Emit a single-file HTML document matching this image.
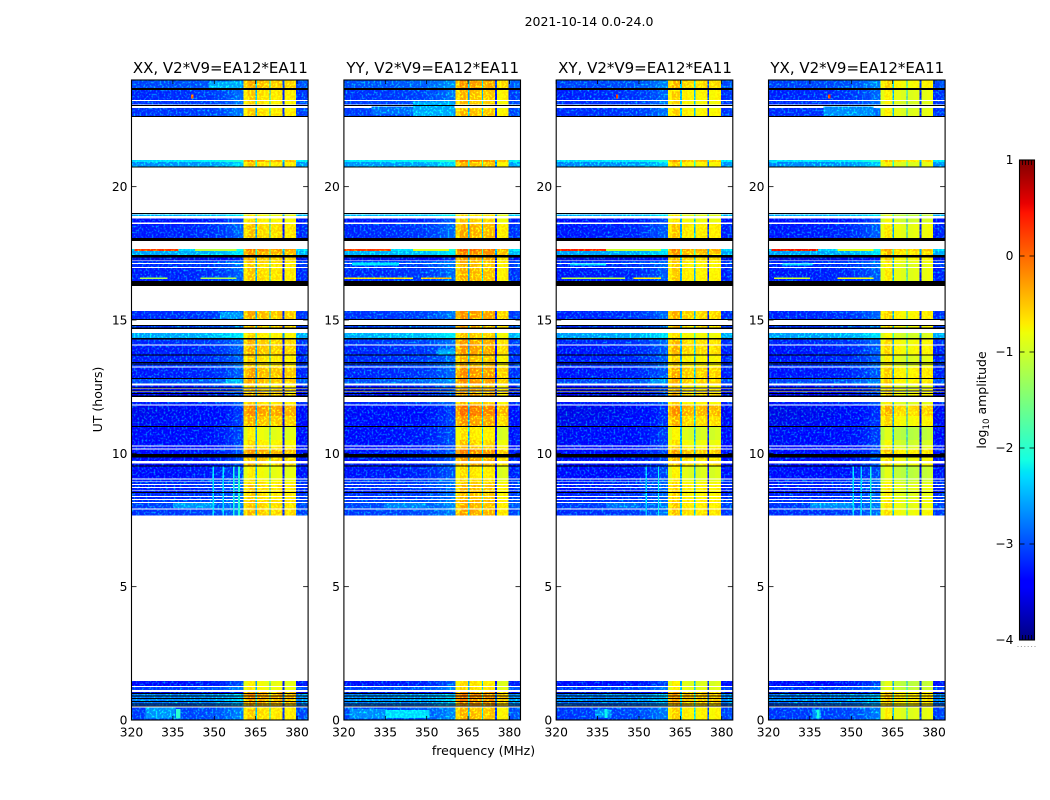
<!DOCTYPE html>
<html>
<head>
<meta charset="utf-8">
<title>2021-10-14 0.0-24.0</title>
<style>
html,body{margin:0;padding:0;background:#fff;}
svg{display:block;}
text{font-family:"DejaVu Sans","Liberation Sans",sans-serif;fill:#000;}
</style>
</head>
<body>
<svg id="figure" xmlns="http://www.w3.org/2000/svg" width="1050" height="800" viewBox="0 0 1050 800">
  <defs>
    <filter id="mottle" x="0" y="0" width="100%" height="100%" color-interpolation-filters="sRGB">
      <feTurbulence type="fractalNoise" baseFrequency="0.5" numOctaves="1" seed="4" result="n"/>
      <feColorMatrix in="n" type="matrix" values="0 0 0 0 0  1.7 0 0 0 -0.8  0 0 0 0 0  0 0 0 0 1" result="g"/>
      <feComposite in="g" in2="SourceAlpha" operator="in" result="masked"/>
      <feComposite in="SourceGraphic" in2="masked" operator="arithmetic" k1="0" k2="1" k3="1" k4="0"/>
    </filter>
    <linearGradient id="jetGradient" x1="0" y1="1" x2="0" y2="0"></linearGradient>
  </defs>
  <text x="589" y="26" font-size="12.5" text-anchor="middle">2021-10-14 0.0-24.0</text>
  <text x="483.5" y="755" font-size="12.5" text-anchor="middle">frequency (MHz)</text>
  <text x="0" y="0" font-size="12.5" text-anchor="middle" transform="translate(102,399.5) rotate(-90)">UT (hours)</text>
  <text x="0" y="0" font-size="12.5" text-anchor="middle" transform="translate(986,400) rotate(-90)">log<tspan font-size="8.7" dy="3">10</tspan><tspan dy="-3"> amplitude</tspan></text>
  <g id="panels"></g>
  <g id="colorbar"></g>
</svg>
<script>
// ---- chart data ----
const panelTitles = ["XX, V2*V9=EA12*EA11", "YY, V2*V9=EA12*EA11", "XY, V2*V9=EA12*EA11", "YX, V2*V9=EA12*EA11"];
const xTickLabels = [320, 335, 350, 365, 380];
const yTickLabels = [0, 5, 10, 15, 20];
const colorbarTickLabels = [1, 0, -1, -2, -3, -4];
const xDomain = [320, 384];
const yDomain = [0, 24];
const colorDomain = [-4, 1];

// frequency channel edges (MHz)
const channelEdges = [320, 326, 332, 338, 344, 350, 354, 357, 360.5, 362, 364, 364.9, 365.5, 368, 370, 370.4, 372.5, 374.8, 375.4, 377.5, 379.7, 382, 384];
// which in-band segment a channel belongs to: -1 background, 0-3 in-band segment, 9 notch
const channelSegments = [-1, -1, -1, -1, -1, -1, -1, -1, 0, 0, 0, 9, 1, 1, 9, 2, 2, 9, 3, 3, -1, -1];
// per-channel log-amplitude adjustments
const channelAdjust = [0.0, 0.02, 0.03, 0.05, 0.08, 0.14, 0.22, 0.32, -0.16, 0.06, 0.04, 0.55, 0.02, -0.04, 0.65, -0.02, 0.03, 0.05, -0.03, 0.03, 0.04, 0.1];
// per-panel background offset and in-band segment offsets
const panelBackground = [-0.2, -0.15, -0.23, -0.23];
const panelSegmentOffsets = [
  [0.21, 0.13, 0.08, 0.05],
  [0.33, 0.31, 0.27, 0.0],
  [0.18, 0.03, -0.01, -0.01],
  [0.0, -0.18, -0.2, -0.14]
];

// time rows: [UT top, UT bottom, background log amp, in-band log amp]; null = flagged (black)
const timeRows = [
  [24.0, 23.7, -2.9, -0.55], [23.7, 23.62, null, null], [23.62, 23.25, -3.05, -0.7], [23.21, 23.08, -3.0, -0.75],
  [23.06, 23.03, null, null], [22.95, 22.91, -3.0, -0.8], [22.91, 22.65, -3.0, -0.7], [22.65, 22.61, null, null],
  [21.0, 20.925, -2.15, -0.42], [20.925, 20.76, -2.55, -0.72], [20.76, 20.72, null, null],
  [19.01, 18.98, null, null], [18.96, 18.9, -2.4, -0.9], [18.81, 18.66, -3.2, -0.8], [18.6, 18.08, -3.1, -0.65], [18.08, 17.96, null, null],
  [17.66, 17.59, -2.25, -0.3], [17.59, 17.44, -2.45, -0.42], [17.44, 17.34, null, null], [17.34, 17.23, -3.4, -0.55],
  [17.21, 17.14, -3.0, -0.65], [17.1, 16.99, -3.05, -0.7], [16.95, 16.46, -3.1, -0.68], [16.46, 16.28, null, null],
  [15.34, 15.04, -3.05, -0.52], [15.04, 15.0, null, null], [14.81, 14.78, null, null], [14.78, 14.72, -3.0, -0.6], [14.72, 14.66, null, null],
  [14.51, 14.33, -2.45, -0.78], [14.33, 14.27, null, null], [14.27, 14.08, -3.05, -0.58], [14.04, 13.71, -3.12, -0.55], [13.71, 13.67, null, null],
  [13.67, 13.43, -3.1, -0.72], [13.43, 13.39, null, null], [13.39, 13.37, -3.1, -0.7], [13.37, 13.33, null, null], [13.33, 13.26, -3.0, -0.7],
  [13.22, 12.83, -3.12, -0.5], [12.83, 12.79, null, null], [12.79, 12.62, -2.9, -0.5], [12.54, 12.47, -3.2, -0.72],
  [12.47, 12.43, null, null], [12.41, 12.36, -3.2, -0.6], [12.36, 12.32, null, null], [12.3, 12.26, -3.2, -0.6], [12.26, 12.23, null, null], [12.23, 12.17, -3.2, -0.55], [12.17, 12.11, null, null],
  [11.93, 11.83, -3.1, -0.72], [11.79, 11.4, -3.32, -0.36], [11.4, 11.03, -3.3, -0.55], [11.03, 10.99, null, null], [10.99, 10.5, -3.25, -0.95], [10.5, 10.29, -3.25, -0.8], [10.26, 10.18, -3.25, -0.7],
  [10.14, 9.98, -3.2, -0.45], [9.98, 9.85, null, null], [9.85, 9.71, -3.2, -0.6], [9.62, 9.54, -3.2, -0.6], [9.54, 9.51, null, null],
  [9.51, 9.06, -3.2, -0.92], [9.02, 8.94, -3.05, -0.85], [8.93, 8.85, -3.05, -0.75], [8.81, 8.74, -3.1, -0.68], [8.7, 8.63, -3.1, -0.68], [8.61, 8.55, -3.15, -0.72], [8.55, 8.51, null, null],
  [8.51, 8.4, -3.05, -0.7], [8.36, 8.29, -3.05, -0.72], [8.25, 8.18, -3.0, -0.62], [8.14, 7.93, -2.95, -0.66], [7.89, 7.66, -3.0, -0.6],
  [1.46, 1.28, -3.2, -0.92], [1.24, 1.13, -2.95, -0.88], [1.05, 1.01, -3.4, -0.5], [1.01, 0.98, null, null], [0.98, 0.92, -2.65, -0.4], [0.92, 0.88, null, null],
  [0.88, 0.83, -2.65, -0.4], [0.83, 0.79, null, null], [0.79, 0.72, -2.6, -0.45], [0.72, 0.68, null, null], [0.68, 0.62, -2.7, -0.45], [0.62, 0.58, null, null],
  [0.58, 0.54, -2.8, -0.5], [0.54, 0.51, null, null], [0.47, 0.0, -2.95, -0.7]
];

// localized features: [panel, UT top, UT bottom, freq start, freq end, log amp]
const features = [
  [0, 17.66, 17.59, 321, 337, 0.3], [1, 17.66, 17.59, 320, 337, 0.3], [2, 17.66, 17.59, 320, 338, 0.45], [3, 17.66, 17.59, 321, 338, 0.5],
  [0, 17.66, 17.59, 343, 358, -1.1], [1, 17.66, 17.59, 345, 358, -0.9], [2, 17.66, 17.59, 338, 358, -1.0], [3, 17.66, 17.59, 345, 358, -0.9],
  [0, 16.6, 16.53, 323, 333, -1.2], [0, 16.6, 16.53, 345, 358, -1.2],
  [1, 16.6, 16.53, 320, 345, -0.6], [1, 16.6, 16.53, 348, 359, -0.4],
  [2, 16.6, 16.53, 322, 345, -1.1], [2, 16.6, 16.53, 348, 358, -0.7],
  [3, 16.6, 16.53, 322, 335, -1.0], [3, 16.6, 16.53, 345, 358, -0.8],
  [1, 17.15, 17.05, 323, 340, -2.3], [3, 17.12, 17.04, 325, 336, -2.4], [2, 17.12, 17.04, 325, 338, -2.4],
  [0, 23.45, 23.3, 341.6, 342.4, 0.1], [2, 23.45, 23.3, 341.6, 342.4, 0.3], [3, 23.45, 23.3, 341.6, 342.4, 0.3],
  [1, 23.2, 22.65, 345, 360, -2.6], [0, 23.95, 23.7, 348, 360, -2.6], [1, 23.0, 22.7, 330, 345, -2.9], [3, 23.0, 22.65, 340, 358, -2.75],
  [0, 0.47, 0.05, 325, 336, -2.7], [0, 0.42, 0.05, 336.2, 337.8, -2.0],
  [1, 0.42, 0.05, 322, 335, -2.75], [1, 0.38, 0.08, 335, 351, -2.35],
  [2, 0.4, 0.1, 334, 340, -2.75], [2, 0.42, 0.08, 337.5, 338.6, -2.2],
  [3, 0.4, 0.05, 336, 339, -2.7], [3, 0.4, 0.05, 337.5, 338.5, -2.1],
  [0, 8.14, 7.95, 335, 350, -2.7], [1, 8.14, 7.95, 335, 350, -2.8], [3, 8.14, 7.95, 335, 350, -2.75], [2, 8.14, 7.95, 338, 350, -2.9],
  [0, 9.5, 7.66, 349.4, 349.9, -2.3], [0, 9.5, 7.66, 353, 353.5, -2.3], [0, 9.5, 7.66, 356.8, 357.3, -2.1], [0, 9.5, 7.66, 358.6, 359.3, -2.0],
  [2, 9.5, 7.66, 352.4, 352.9, -2.4], [2, 9.5, 7.66, 356.8, 357.3, -2.2],
  [3, 9.5, 7.66, 350.4, 350.9, -2.3], [3, 9.5, 7.66, 353.4, 353.9, -2.4], [3, 9.5, 7.66, 356.8, 357.3, -2.1],
  [0, 15.3, 15.05, 352, 360, -2.7], [1, 13.9, 13.7, 354, 360, -2.6], [0, 12.79, 12.62, 354, 360, -2.55], [2, 12.79, 12.62, 354, 360, -2.7]
];

// ---- axis functions ----
const NS = "http://www.w3.org/2000/svg";
const panelLefts = [131.5, 343.9, 556.2, 768.5];
const panelWidth = 176.6;
const plotTop = 80;
const plotHeight = 640;
function xScale(freq, left) { return left + (freq - xDomain[0]) / (xDomain[1] - xDomain[0]) * panelWidth; }
function yScale(ut) { return plotTop + plotHeight - (ut - yDomain[0]) / (yDomain[1] - yDomain[0]) * plotHeight; }
function interpolate(stops, t) {
  for (let i = 1; i < stops.length; i++) {
    if (t <= stops[i][0]) {
      const a = stops[i - 1], b = stops[i];
      return a[1] + (b[1] - a[1]) * (t - a[0]) / (b[0] - a[0]);
    }
  }
  return stops[stops.length - 1][1];
}
const jetRed = [[0, 0], [0.35, 0], [0.66, 1], [0.89, 1], [1, 0.5]];
const jetGreen = [[0, 0], [0.125, 0], [0.375, 1], [0.64, 1], [0.91, 0], [1, 0]];
const jetBlue = [[0, 0.5], [0.11, 1], [0.34, 1], [0.65, 0], [1, 0]];
function jetColor(t) {
  const r = Math.round(255 * interpolate(jetRed, t));
  const g = Math.round(255 * interpolate(jetGreen, t));
  const b = Math.round(255 * interpolate(jetBlue, t));
  return "rgb(" + r + "," + g + "," + b + ")";
}
function colorScale(v) {
  if (v === null || v < colorDomain[0]) return "#000";
  const t = Math.min(1, (v - colorDomain[0]) / (colorDomain[1] - colorDomain[0]));
  return jetColor(t);
}
function cbY(v) { return 160 + (colorDomain[1] - v) / (colorDomain[1] - colorDomain[0]) * 480; }
function minusLabel(v) { return v < 0 ? "\u2212" + Math.abs(v) : String(v); }
function setAttrs(el, attrs) { for (const k in attrs) el.setAttribute(k, attrs[k]); return el; }
function shape(tag, attrs) { return setAttrs(document.createElementNS(NS, tag), attrs); }

// ---- panels ----
const panelsRoot = document.getElementById("panels");
panelTitles.forEach(function (title, p) {
  const left = panelLefts[p];
  const g = shape("g", {});
  
  
  panelsRoot.appendChild(g);

  const cells = shape("g", { filter: "url(#mottle)", "shape-rendering": "crispEdges" });
  
  
  g.appendChild(cells);

  const flagged = shape("g", { "shape-rendering": "crispEdges" });
  
  
  g.appendChild(flagged);

  timeRows.forEach(function (row) {
    const y0 = yScale(row[0]);
    const y1 = yScale(row[1]);
    channelSegments.forEach(function (seg, c) {
      let value = null;
      if (row[2] !== null) {
        if (seg === -1) value = row[2] + channelAdjust[c] + panelBackground[p];
        else if (seg === 9) value = (c === 17 ? row[2] - 0.2 : Math.max(row[2], -3.1)) + channelAdjust[c] - 0.1;
        else value = row[3] + channelAdjust[c] + panelSegmentOffsets[p][seg];
      }
      const x0 = xScale(channelEdges[c], left);
      const x1 = xScale(channelEdges[c + 1], left);
      const cell = shape("rect", { x: x0.toFixed(2), y: y0.toFixed(2), width: (x1 - x0).toFixed(2), height: (y1 - y0).toFixed(2), fill: colorScale(value) });
      
      
      (value === null ? flagged : cells).appendChild(cell);
    });
  });

  features.forEach(function (f) {
    if (f[0] !== p) return;
    const x0 = xScale(f[3], left);
    const x1 = xScale(f[4], left);
    const y0 = yScale(f[1]);
    const y1 = yScale(f[2]);
    const mark = shape("rect", { x: x0.toFixed(2), y: y0.toFixed(2), width: (x1 - x0).toFixed(2), height: (y1 - y0).toFixed(2), fill: colorScale(f[5]) });
    
    
    cells.appendChild(mark);
  });

  const frame = shape("rect", { x: left, y: plotTop, width: panelWidth, height: plotHeight, fill: "none", stroke: "#000", "stroke-width": 1.1 });
  
  
  g.appendChild(frame);

  const heading = shape("text", { x: left + panelWidth / 2 + 0.5, y: 73, "font-size": 15, "text-anchor": "middle" });
  
  
  heading.textContent = title;
  g.appendChild(heading);

  xTickLabels.forEach(function (v) {
    const x = xScale(v, left);
    const tickB = shape("line", { x1: x, x2: x, y1: plotTop + plotHeight, y2: plotTop + plotHeight - 4, stroke: "#000", "stroke-width": 0.8 });
    
    
    g.appendChild(tickB);
    const tickT = shape("line", { x1: x, x2: x, y1: plotTop, y2: plotTop + 4, stroke: "#000", "stroke-width": 0.8 });
    
    
    g.appendChild(tickT);
    const lab = shape("text", { x: x, y: 736.5, "font-size": 12.3, "text-anchor": "middle" });
    
    
    lab.textContent = v;
    g.appendChild(lab);
  });

  yTickLabels.forEach(function (v) {
    const y = yScale(v);
    const tickL = shape("line", { x1: left, x2: left + 5, y1: y, y2: y, stroke: "#000", "stroke-width": 0.8 });
    
    
    g.appendChild(tickL);
    const tickR = shape("line", { x1: left + panelWidth, x2: left + panelWidth - 5, y1: y, y2: y, stroke: "#000", "stroke-width": 0.8 });
    
    
    g.appendChild(tickR);
    const lab = shape("text", { x: left - 4, y: y + 4.5, "font-size": 12.3, "text-anchor": "end" });
    
    
    lab.textContent = v;
    g.appendChild(lab);
  });
});

// ---- colorbar ----
const gradient = document.getElementById("jetGradient");
const gradientStops = [0, 0.11, 0.125, 0.34, 0.35, 0.375, 0.64, 0.65, 0.66, 0.89, 0.91, 1];
gradientStops.forEach(function (t) {
  const stop = shape("stop", { offset: t, "stop-color": jetColor(t) });
  
  
  gradient.appendChild(stop);
});
const colorbar = document.getElementById("colorbar");
const cbLeft = 1019.5;
const cbWidth = 15;
const cbFill = shape("rect", { x: cbLeft, y: 160, width: cbWidth, height: 480, fill: "url(#jetGradient)" });


colorbar.appendChild(cbFill);
const cbFrame = shape("rect", { x: cbLeft, y: 160, width: cbWidth, height: 480, fill: "none", stroke: "#000", "stroke-width": 1.1 });


colorbar.appendChild(cbFrame);
colorbarTickLabels.forEach(function (v) {
  const y = cbY(v);
  const tickL = shape("line", { x1: cbLeft, x2: cbLeft + 5, y1: y, y2: y, stroke: "#000", "stroke-width": 0.8 });
  
  
  colorbar.appendChild(tickL);
  const tickR = shape("line", { x1: cbLeft + cbWidth, x2: cbLeft + cbWidth - 5, y1: y, y2: y, stroke: "#000", "stroke-width": 0.8 });
  
  
  colorbar.appendChild(tickR);
  const lab = shape("text", { x: cbLeft - 6, y: y + 4, "font-size": 12.3, "text-anchor": "end" });
  
  
  lab.textContent = minusLabel(v);
  colorbar.appendChild(lab);
});
const cbMinorOffsets = [1, 2, 3, 4];
cbMinorOffsets.forEach(function (i) {
  const x = cbLeft + i * cbWidth / 5;
  const top = shape("line", { x1: x, x2: x, y1: 160, y2: 165, stroke: "#000", "stroke-width": 0.8 });
  
  
  colorbar.appendChild(top);
  const bottom = shape("line", { x1: x, x2: x, y1: 640, y2: 635, stroke: "#000", "stroke-width": 0.8 });
  
  
  colorbar.appendChild(bottom);
});
const cbDots = [0, 1, 2, 3, 4, 5];
cbDots.forEach(function (i) {
  const dot = shape("rect", { x: 1017.5 + i * 3.4, y: 646, width: 1, height: 1, fill: "#999" });
  
  
  colorbar.appendChild(dot);
});
</script>
</body>
</html>
